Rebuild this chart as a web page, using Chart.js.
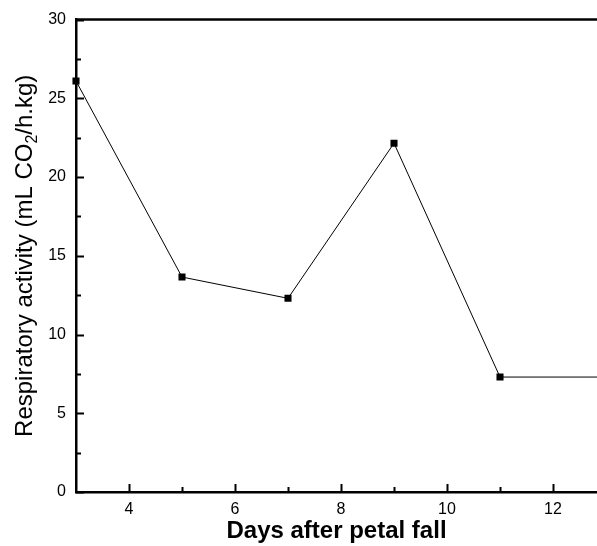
<!DOCTYPE html>
<html>
<head>
<meta charset="utf-8">
<script src="https://cdn.jsdelivr.net/npm/chart.js@4"></script>
<style>
  html, body { margin: 0; padding: 0; background: #fff; }
  #chart { display: block; }
</style>
</head>
<body>
<canvas id="chart" width="597" height="546"></canvas>
<script>
const days = [3, 5, 7, 9, 11, 13];
const respiration = [26.1, 13.65, 12.3, 22.15, 7.3, 7.3];
const xTickValues = [4, 6, 8, 10, 12];
const xMinorValues = [5, 7, 9, 11];
const yTickValues = [0, 5, 10, 15, 20, 25, 30];
const yMinorValues = [2.5, 7.5, 12.5, 17.5, 22.5, 27.5];

const FONT = "'Liberation Sans', Arial, sans-serif";

// inward ticks, top frame line and the y title with a subscript
const framePlugin = {
  id: "frame",
  afterDraw(chart) {
    const { ctx, chartArea, scales } = chart;
    const { x, y } = scales;
    ctx.save();
    ctx.strokeStyle = "#000";
    ctx.lineWidth = 2.5;
    ctx.beginPath();
    ctx.moveTo(chartArea.left, chartArea.top);
    ctx.lineTo(chartArea.right, chartArea.top);
    ctx.stroke();

    ctx.lineWidth = 2;
    const bottom = chartArea.bottom;
    const left = chartArea.left;
    ctx.beginPath();
    for (const v of xTickValues) {
      const px = Math.round(x.getPixelForValue(v)) + 0.5;
      ctx.moveTo(px, bottom);
      ctx.lineTo(px, bottom - 8);
    }
    for (const v of xMinorValues) {
      const px = Math.round(x.getPixelForValue(v)) + 0.5;
      ctx.moveTo(px, bottom);
      ctx.lineTo(px, bottom - 5);
    }
    for (const v of yTickValues) {
      const py = Math.round(y.getPixelForValue(v)) + 0.5;
      ctx.moveTo(left, py);
      ctx.lineTo(left + 8, py);
    }
    for (const v of yMinorValues) {
      const py = Math.round(y.getPixelForValue(v)) + 0.5;
      ctx.moveTo(left, py);
      ctx.lineTo(left + 5, py);
    }
    ctx.stroke();

    // y axis title
    const parts = [
      { text: "Respiratory activity (mL CO", size: 24, dy: 0 },
      { text: "2", size: 16, dy: 8 },
      { text: "/h.kg)", size: 24, dy: 0 },
    ];
    let total = 0;
    for (const p of parts) {
      ctx.font = `${p.size}px ${FONT}`;
      p.w = ctx.measureText(p.text).width;
      total += p.w;
    }
    ctx.translate(25, (chartArea.top + chartArea.bottom) / 2);
    ctx.rotate(-Math.PI / 2);
    ctx.fillStyle = "#000";
    ctx.textBaseline = "middle";
    ctx.textAlign = "left";
    let cx = -total / 2;
    for (const p of parts) {
      ctx.font = `${p.size}px ${FONT}`;
      ctx.fillText(p.text, cx, p.dy);
      cx += p.w;
    }
    ctx.restore();
  },
};

new Chart(document.getElementById("chart"), {
  type: "line",
  data: {
    datasets: [
      {
        data: days.map((d, i) => ({ x: d, y: respiration[i] })),
        borderColor: "#000",
        borderWidth: 1,
        pointStyle: "rect",
        pointRadius: 5,
        pointBorderWidth: 0,
        pointBackgroundColor: "#000",
        tension: 0,
        clip: { left: 8, top: 8, right: 0, bottom: 8 },
      },
    ],
  },
  options: {
    responsive: false,
    animation: false,
    layout: { autoPadding: false, padding: { top: 17, right: 0, left: 0, bottom: 0 } },
    plugins: { legend: { display: false }, tooltip: { enabled: false } },
    scales: {
      x: {
        type: "linear",
        min: 3,
        max: 12.83,
        grid: { display: false, drawTicks: false },
        border: { display: true, color: "#000", width: 2.5 },
        afterBuildTicks(scale) {
          scale.ticks = xTickValues.map((v) => ({ value: v }));
        },
        afterFit(scale) {
          scale.height = 54;
        },
        ticks: {
          color: "#000",
          padding: 8,
          maxRotation: 0,
          font: { family: FONT, size: 16 },
        },
        title: {
          display: true,
          text: "Days after petal fall",
          color: "#000",
          padding: { top: 4, bottom: 0 },
          font: { family: FONT, size: 24, weight: "bold" },
        },
      },
      y: {
        min: 0,
        max: 30,
        grid: { display: false, drawTicks: false },
        border: { display: true, color: "#000", width: 2.5 },
        afterBuildTicks(scale) {
          scale.ticks = yTickValues.map((v) => ({ value: v }));
        },
        afterFit(scale) {
          scale.width = 76;
        },
        ticks: {
          color: "#000",
          padding: 10,
          font: { family: FONT, size: 16 },
        },
      },
    },
  },
  plugins: [framePlugin],
});
</script>
</body>
</html>
